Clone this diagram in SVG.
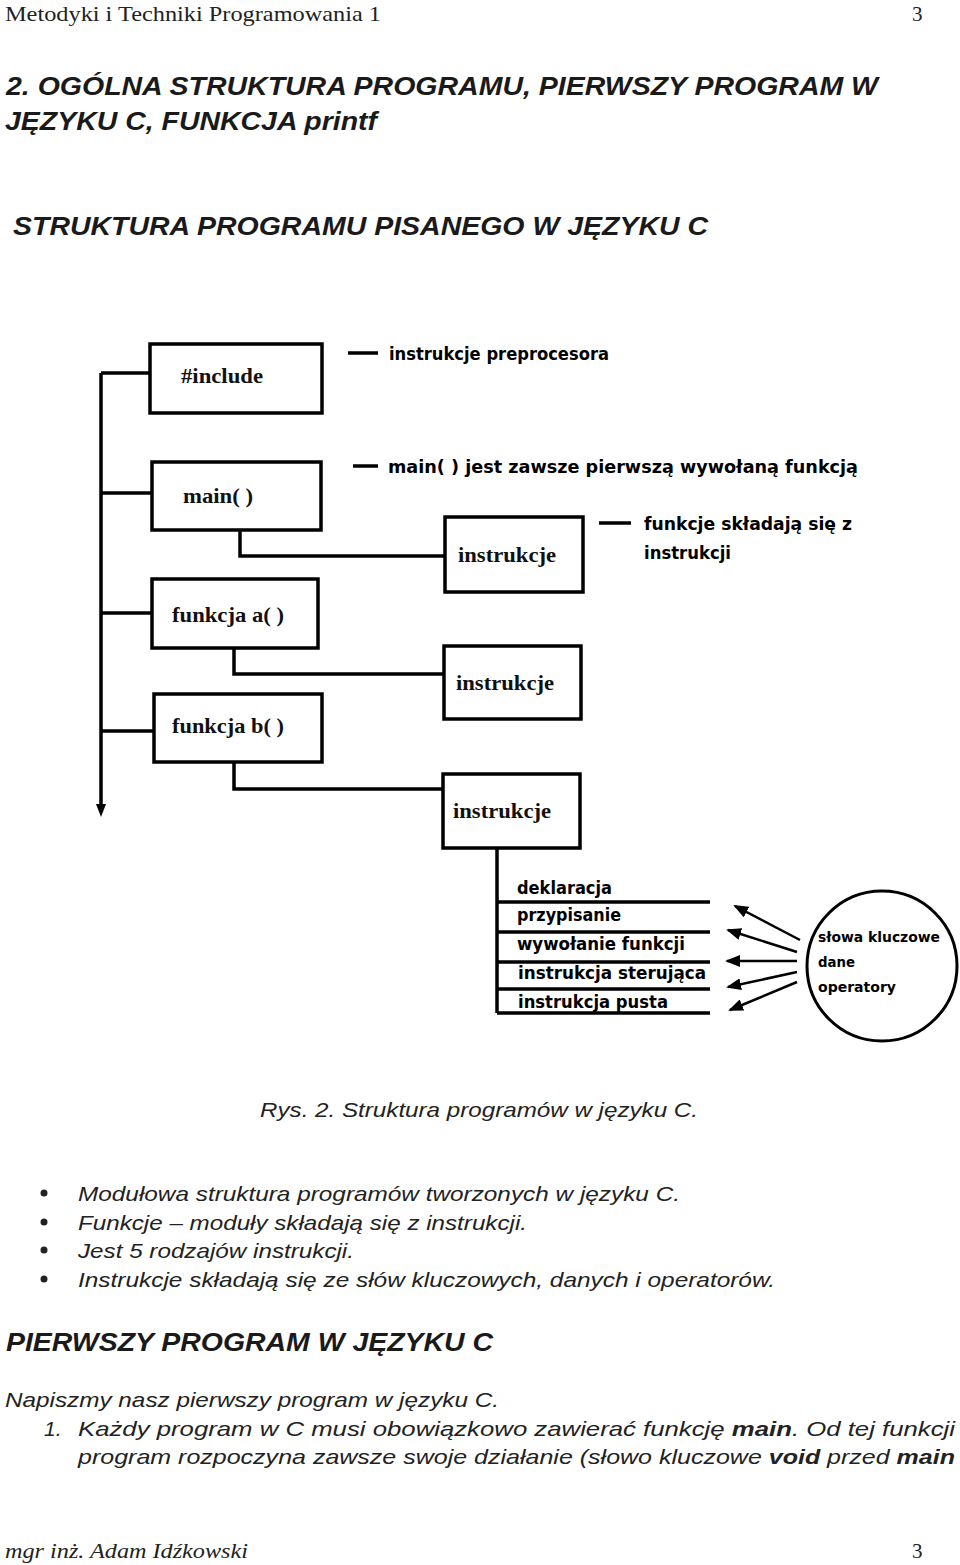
<svg xmlns="http://www.w3.org/2000/svg" width="960" height="1565" viewBox="0 0 960 1565">
<style>
.hdr{font-family:"Liberation Serif",serif;font-size:21px;fill:#222}
.ttl{font-family:"Liberation Sans",Arial,sans-serif;font-size:26px;font-weight:bold;font-style:italic;fill:#1a1a1a}
.body{font-family:"Liberation Sans",Arial,sans-serif;font-size:21px;font-style:italic;fill:#222}
.box{fill:#fff;stroke:#000;stroke-width:3.5}
.blab{font-family:"Liberation Serif",serif;font-size:22px;font-weight:bold;fill:#111}
.ann{font-family:"DejaVu Sans",sans-serif;font-size:17px;font-weight:bold;fill:#000}
.small{font-family:"DejaVu Sans",sans-serif;font-size:14px;font-weight:bold;fill:#000}
.ln{fill:none;stroke:#000;stroke-width:3.5}
.thin{fill:none;stroke:#000;stroke-width:2.5}
</style>
<defs>
<marker id="ah" markerWidth="16" markerHeight="12" refX="13" refY="6" orient="auto" markerUnits="userSpaceOnUse">
<path d="M15,6 L0,0 L0,12 Z" fill="#000"/>
</marker>
</defs>
<rect width="960" height="1565" fill="#fff"/>

<text class="hdr" x="5" y="21" textLength="376" lengthAdjust="spacingAndGlyphs">Metodyki i Techniki Programowania 1</text>
<text class="hdr" x="912" y="21">3</text>

<text class="ttl" x="6" y="95" textLength="872" lengthAdjust="spacingAndGlyphs">2. OGÓLNA STRUKTURA PROGRAMU, PIERWSZY PROGRAM W</text>
<text class="ttl" x="5" y="130" textLength="372" lengthAdjust="spacingAndGlyphs">JĘZYKU C, FUNKCJA printf</text>
<text class="ttl" x="13" y="235" textLength="695" lengthAdjust="spacingAndGlyphs">STRUKTURA PROGRAMU PISANEGO W JĘZYKU C</text>

<g id="connectors">
<path class="ln" d="M101,373 V806"/>
<path d="M96,804 L106,804 L101,817 Z" fill="#000"/>
<path class="ln" d="M101,373 H150"/>
<path class="ln" d="M101,493 H152"/>
<path class="ln" d="M101,613 H152"/>
<path class="ln" d="M101,731 H154"/>
<path class="ln" d="M240,530 V556 H445"/>
<path class="ln" d="M234,648 V674 H444"/>
<path class="ln" d="M234,762 V789 H443"/>
<path class="ln" d="M497,848 V1013"/>
<path class="ln" d="M348,353 H378"/>
<path class="ln" d="M353,466 H378"/>
<path class="ln" d="M599,523 H631"/>
<path class="ln" d="M497,902 H710"/>
<path class="ln" d="M497,932 H710"/>
<path class="ln" d="M497,962 H710"/>
<path class="ln" d="M497,989 H710"/>
<path class="ln" d="M497,1013 H710"/>
<path class="thin" d="M800,940 L735,906" marker-end="url(#ah)"/>
<path class="thin" d="M797,952 L728,930" marker-end="url(#ah)"/>
<path class="thin" d="M797,961 L727,961" marker-end="url(#ah)"/>
<path class="thin" d="M797,972 L728,987" marker-end="url(#ah)"/>
<path class="thin" d="M797,982 L730,1010" marker-end="url(#ah)"/>
</g>

<g id="include">
<rect class="box" x="150" y="344" width="172" height="69"/>
<text class="blab" x="181" y="383" textLength="82" lengthAdjust="spacingAndGlyphs">#include</text>
</g>
<g id="main">
<rect class="box" x="152" y="462" width="169" height="68"/>
<text class="blab" x="183" y="503" textLength="70" lengthAdjust="spacingAndGlyphs">main( )</text>
</g>
<g id="funkcja-a">
<rect class="box" x="152" y="579" width="166" height="69"/>
<text class="blab" x="172" y="622" textLength="112" lengthAdjust="spacingAndGlyphs">funkcja a( )</text>
</g>
<g id="funkcja-b">
<rect class="box" x="154" y="694" width="168" height="68"/>
<text class="blab" x="172" y="733" textLength="112" lengthAdjust="spacingAndGlyphs">funkcja b( )</text>
</g>
<g id="instrukcje-1">
<rect class="box" x="445" y="517" width="138" height="75"/>
<text class="blab" x="458" y="562" textLength="98" lengthAdjust="spacingAndGlyphs">instrukcje</text>
</g>
<g id="instrukcje-2">
<rect class="box" x="444" y="646" width="137" height="73"/>
<text class="blab" x="456" y="690" textLength="98" lengthAdjust="spacingAndGlyphs">instrukcje</text>
</g>
<g id="instrukcje-3">
<rect class="box" x="443" y="774" width="137" height="74"/>
<text class="blab" x="453" y="818" textLength="98" lengthAdjust="spacingAndGlyphs">instrukcje</text>
</g>

<g id="annotations">
<text class="ann" x="389" y="360" textLength="220" lengthAdjust="spacingAndGlyphs">instrukcje preprocesora</text>
<text class="ann" x="388" y="473" textLength="470" lengthAdjust="spacingAndGlyphs">main( ) jest zawsze pierwszą wywołaną funkcją</text>
<text class="ann" x="644" y="530" textLength="208" lengthAdjust="spacingAndGlyphs">funkcje składają się z</text>
<text class="ann" x="644" y="559" textLength="87" lengthAdjust="spacingAndGlyphs">instrukcji</text>
</g>

<g id="instruction-list">
<text class="ann" x="517" y="894" textLength="95" lengthAdjust="spacingAndGlyphs">deklaracja</text>
<text class="ann" x="517" y="921" textLength="104" lengthAdjust="spacingAndGlyphs">przypisanie</text>
<text class="ann" x="517" y="950" textLength="168" lengthAdjust="spacingAndGlyphs">wywołanie funkcji</text>
<text class="ann" x="518" y="979" textLength="188" lengthAdjust="spacingAndGlyphs">instrukcja sterująca</text>
<text class="ann" x="518" y="1008" textLength="150" lengthAdjust="spacingAndGlyphs">instrukcja pusta</text>
</g>

<g id="circle">
<ellipse cx="882" cy="966" rx="75" ry="75" fill="#fff" stroke="#000" stroke-width="3"/>
<text class="small" x="818" y="942" textLength="122" lengthAdjust="spacingAndGlyphs">słowa kluczowe</text>
<text class="small" x="818" y="967" textLength="37" lengthAdjust="spacingAndGlyphs">dane</text>
<text class="small" x="818" y="992" textLength="78" lengthAdjust="spacingAndGlyphs">operatory</text>
</g>

<text class="body" x="260" y="1117" textLength="438" lengthAdjust="spacingAndGlyphs">Rys. 2. Struktura programów w języku C.</text>

<g id="bullets">
<circle cx="44" cy="1193" r="3.5" fill="#222"/>
<circle cx="44" cy="1222" r="3.5" fill="#222"/>
<circle cx="44" cy="1250" r="3.5" fill="#222"/>
<circle cx="44" cy="1279" r="3.5" fill="#222"/>
<text class="body" x="78" y="1201" textLength="602" lengthAdjust="spacingAndGlyphs">Modułowa struktura programów tworzonych w języku C.</text>
<text class="body" x="78" y="1230" textLength="449" lengthAdjust="spacingAndGlyphs">Funkcje – moduły składają się z instrukcji.</text>
<text class="body" x="78" y="1258" textLength="276" lengthAdjust="spacingAndGlyphs">Jest 5 rodzajów instrukcji.</text>
<text class="body" x="78" y="1287" textLength="697" lengthAdjust="spacingAndGlyphs">Instrukcje składają się ze słów kluczowych, danych i operatorów.</text>
</g>

<text class="ttl" x="6" y="1351" textLength="487" lengthAdjust="spacingAndGlyphs">PIERWSZY PROGRAM W JĘZYKU C</text>

<text class="body" x="5" y="1407" textLength="494" lengthAdjust="spacingAndGlyphs">Napiszmy nasz pierwszy program w języku C.</text>
<text class="body" x="44" y="1436">1.</text>
<text class="body" x="78" y="1436" textLength="877" lengthAdjust="spacingAndGlyphs">Każdy program w C musi obowiązkowo zawierać funkcję <tspan font-weight="bold">main</tspan>. Od tej funkcji</text>
<text class="body" x="78" y="1464" textLength="877" lengthAdjust="spacingAndGlyphs">program rozpoczyna zawsze swoje działanie (słowo kluczowe <tspan font-weight="bold">void</tspan> przed <tspan font-weight="bold">main</tspan></text>

<text class="hdr" x="5" y="1558" font-style="italic" textLength="243" lengthAdjust="spacingAndGlyphs">mgr inż. Adam Idźkowski</text>
<text class="hdr" x="912" y="1558">3</text>
</svg>
